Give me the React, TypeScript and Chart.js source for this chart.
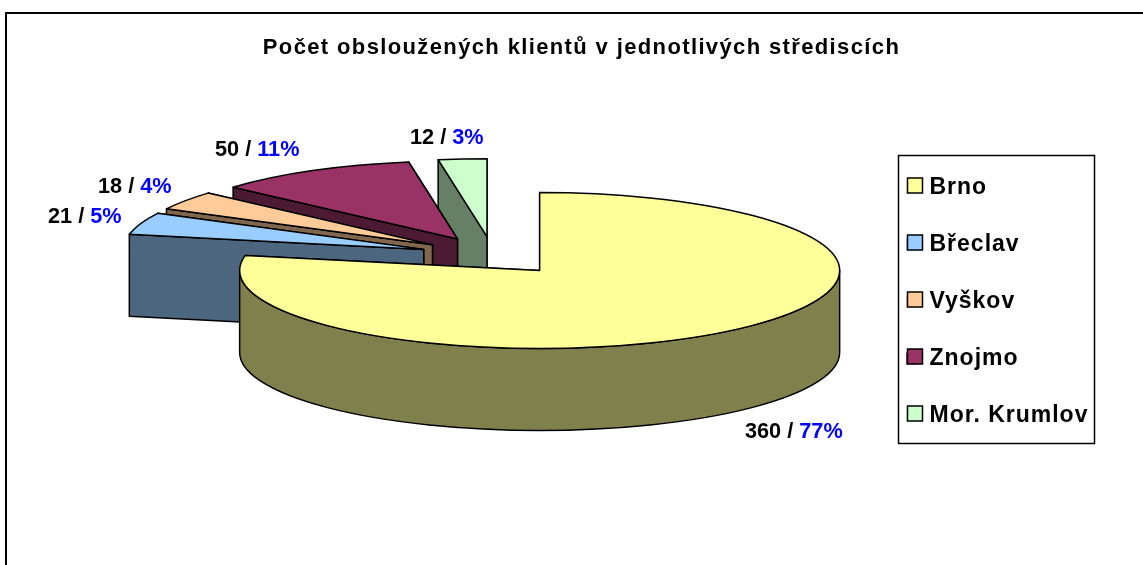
import React, { useEffect, useRef } from "react";
import { Chart, registerables } from "chart.js";

Chart.register(...registerables);

const titleText = "Počet obsloužených klientů v jednotlivých střediscích";
const categories = ["Brno", "Břeclav", "Vyškov", "Znojmo", "Mor. Krumlov"];
const clients = [360, 21, 18, 50, 12];
const percentLabels = ["77%", "5%", "4%", "11%", "3%"];
const topColors = ["#FFFF99", "#99CCFF", "#FFCC99", "#993366", "#CCFFCC"];
const sideColors = ["#80804D", "#4D6680", "#80664D", "#4D1A33", "#668066"];

const FONT = '"Liberation Sans", Arial, sans-serif';
const RX = 300;
const RY = 78;
const DEPTH = 82;
const LINE = 1.5;
const labelAnchors = [
  [745, 432],
  [48, 217],
  [98, 187],
  [215, 150],
  [410, 138],
];

const withSpacing = (box: any, ctx: any, spacing: string) => {
  const original = box.draw.bind(box);
  box.draw = (...a: any[]) => {
    ctx.letterSpacing = spacing;
    original(...a);
    ctx.letterSpacing = "0px";
  };
  box.__spaced = true;
};

const pie3d = {
  id: "pie3d",
  afterLayout(chart: any) {
    const lg = chart.legend;
    lg.left = 872;
    lg.right = 1097;
    lg.top = 142;
    lg.bottom = 530;
    const t = chart.titleBlock;
    const h = t.bottom - t.top;
    t.left = 20;
    t.right = 1143;
    t.top = 35;
    t.bottom = 35 + h;
    if (!lg.__spaced) withSpacing(lg, chart.ctx, "1px");
    if (!t.__spaced) withSpacing(t, chart.ctx, "1.37px");
  },
  beforeDatasetDraw(chart: any, args: any) {
    const { ctx } = chart;
    const arcs = args.meta.data;
    const order = arcs.map((_: any, i: number) => i).reverse();
    ctx.save();
    ctx.lineWidth = LINE;
    ctx.strokeStyle = "#000";
    ctx.lineJoin = "round";
    for (const i of order) {
      const arc = arcs[i];
      const { x, y, startAngle, endAngle, outerRadius } = arc;
      // Chart.js treats offset / 4 as the explosion distance and grows the radius by it
      const shift = arc.options.offset / 4;
      const drawn = outerRadius + shift;
      const sx = RX / drawn;
      const sy = RY / drawn;
      const mid = (startAngle + endAngle) / 2;
      const ax = x + Math.cos(mid) * shift * sx;
      const ay = y + Math.sin(mid) * shift * sy;
      const pt = (a: number) => [ax + Math.cos(a) * RX, ay + Math.sin(a) * RY];
      const wall = (a: number) => {
        const [px, py] = pt(a);
        ctx.beginPath();
        ctx.moveTo(ax, ay);
        ctx.lineTo(px, py);
        ctx.lineTo(px, py + DEPTH);
        ctx.lineTo(ax, ay + DEPTH);
        ctx.closePath();
        ctx.fillStyle = sideColors[i];
        ctx.fill();
        ctx.stroke();
      };
      wall(endAngle);
      wall(startAngle);
      // outer curved wall: only the part of the rim facing the viewer
      const from = Math.max(startAngle, 0);
      const to = Math.min(endAngle, Math.PI);
      if (to > from) {
        const [qx, qy] = pt(to);
        ctx.beginPath();
        ctx.ellipse(ax, ay, RX, RY, 0, from, to);
        ctx.lineTo(qx, qy + DEPTH);
        ctx.ellipse(ax, ay + DEPTH, RX, RY, 0, to, from, true);
        ctx.closePath();
        ctx.fillStyle = sideColors[i];
        ctx.fill();
        ctx.stroke();
      }
      // top face, from the angles and colour the library computed for this arc
      ctx.beginPath();
      ctx.moveTo(ax, ay);
      ctx.ellipse(ax, ay, RX, RY, 0, startAngle, endAngle);
      ctx.closePath();
      ctx.fillStyle = arc.options.backgroundColor;
      ctx.fill();
      ctx.stroke();
    }
    ctx.restore();
    return false;
  },
  afterDatasetsDraw(chart: any) {
    const { ctx } = chart;
    ctx.save();
    ctx.font = `bold 21.7px ${FONT}`;
    ctx.textBaseline = "middle";
    clients.forEach((v, i) => {
      const [lx, ly] = labelAnchors[i];
      const head = `${v} / `;
      ctx.fillStyle = "#000";
      ctx.fillText(head, lx, ly);
      ctx.fillStyle = "#0000FF";
      ctx.fillText(percentLabels[i], lx + ctx.measureText(head).width, ly);
    });
    ctx.restore();
  },
  afterDraw(chart: any) {
    const { ctx } = chart;
    ctx.save();
    ctx.strokeStyle = "#000";
    ctx.lineWidth = 2;
    ctx.beginPath();
    ctx.moveTo(6, 565);
    ctx.lineTo(6, 13);
    ctx.lineTo(1143, 13);
    ctx.stroke();
    ctx.lineWidth = LINE;
    ctx.strokeRect(898.5, 155.5, 196, 288);
    chart.legend.legendHitBoxes.forEach((b: any, i: number) => {
      const cy = b.top + b.height / 2 - 2;
      ctx.fillStyle = topColors[i];
      ctx.fillRect(b.left + 1.5, cy - 7.5, 15, 15);
      ctx.strokeRect(b.left + 1.5, cy - 7.5, 15, 15);
    });
    ctx.restore();
  },
};

export default function App() {
  const ref = useRef<HTMLCanvasElement>(null);
  useEffect(() => {
    const chart = new Chart(ref.current as HTMLCanvasElement, {
      type: "pie",
      data: {
        labels: categories,
        datasets: [
          {
            data: clients,
            backgroundColor: topColors,
            borderWidth: 0,
            offset: 180.4,
          },
        ],
      },
      options: {
        animation: false,
        responsive: false,
        layout: { padding: { left: 0, right: 157, top: 0, bottom: 80 } },
        plugins: {
          tooltip: { enabled: false },
          title: {
            display: true,
            text: titleText,
            color: "#000",
            padding: 0,
            font: { family: FONT, size: 22, weight: "bold" },
          },
          legend: {
            position: "chartArea",
            align: "start",
            labels: {
              boxWidth: 12,
              boxHeight: 12,
              padding: 34,
              color: "#000",
              font: { family: FONT, size: 23, weight: "bold" },
            },
          },
        },
      },
      plugins: [pie3d],
    } as any);
    return () => chart.destroy();
  }, []);
  return (
    <div style={{ position: "fixed", left: 0, top: 0, width: 1143, height: 565, background: "#fff" }}>
      <canvas ref={ref} width={1143} height={565} style={{ display: "block" }} />
    </div>
  );
}
